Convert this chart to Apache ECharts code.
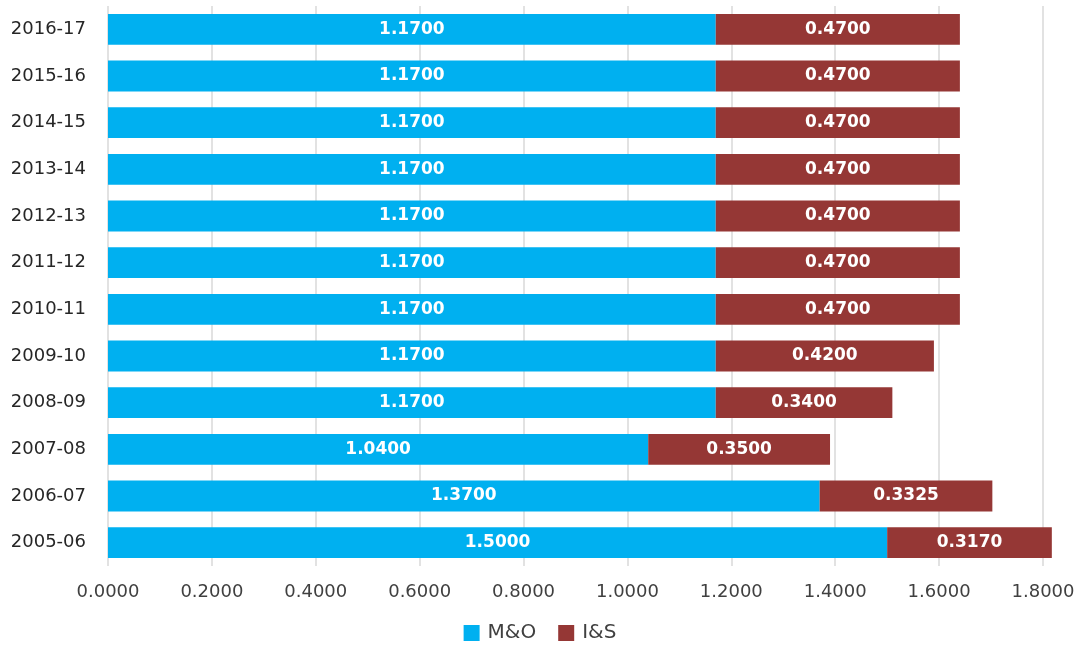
<!DOCTYPE html>
<html>
<head>
<meta charset="utf-8">
<script src="https://cdn.jsdelivr.net/npm/echarts@6/dist/echarts.min.js"></script>
<style>
  html, body { margin: 0; padding: 0; background: #fff; }
  #chart { width: 1080px; height: 645px; }
</style>
</head>
<body>
<div id="chart"></div>
<script>
// 年份（自下而上）
var years = ['2005-06', '2006-07', '2007-08', '2008-09', '2009-10', '2010-11',
  '2011-12', '2012-13', '2013-14', '2014-15', '2015-16', '2016-17'];
var mo = [1.5000, 1.3700, 1.0400, 1.1700, 1.1700, 1.1700, 1.1700, 1.1700, 1.1700, 1.1700, 1.1700, 1.1700];
var is = [0.3170, 0.3325, 0.3500, 0.3400, 0.4200, 0.4700, 0.4700, 0.4700, 0.4700, 0.4700, 0.4700, 0.4700];

var font = 'DejaVu Sans';
var chart = echarts.init(document.getElementById('chart'));

function barLabel() {
  return {
    show: true,
    position: 'inside',
    color: '#fff',
    fontWeight: 'bold',
    fontFamily: font,
    fontSize: 17,
    formatter: function (p) { return p.value.toFixed(4); }
  };
}

chart.setOption({
  animation: false,
  grid: { left: 108, right: 37, top: 6, bottom: 79, containLabel: false },
  legend: {
    top: 623,
    left: 'center',
    padding: 0,
    itemWidth: 16,
    itemHeight: 16,
    itemGap: 22,
    icon: 'rect',
    textStyle: { fontFamily: font, fontSize: 20, color: '#404040', padding: [0, 0, 0, 3] },
    data: ['M&O', 'I&S']
  },
  xAxis: {
    type: 'value',
    min: 0,
    max: 1.8,
    interval: 0.2,
    axisLine: { show: false },
    axisTick: { show: false },
    splitLine: { lineStyle: { color: '#d9d9d9', width: 1.5 } },
    axisLabel: {
      margin: 17,
      fontFamily: font,
      fontSize: 18,
      color: '#404040',
      formatter: function (v) { return v.toFixed(4); }
    }
  },
  yAxis: {
    type: 'category',
    data: years,
    axisLine: { show: false },
    axisTick: { show: false },
    axisLabel: { margin: 22, fontFamily: font, fontSize: 18, color: '#262626' }
  },
  series: [
    {
      name: 'M&O', type: 'bar', stack: 'tax', data: mo, barWidth: '66%',
      clip: false,
      itemStyle: { color: '#00b0f0' },
      label: barLabel()
    },
    {
      name: 'I&S', type: 'bar', stack: 'tax', data: is, barWidth: '66%',
      clip: false,
      itemStyle: { color: '#953735' },
      label: barLabel()
    }
  ]
});
</script>
</body>
</html>
